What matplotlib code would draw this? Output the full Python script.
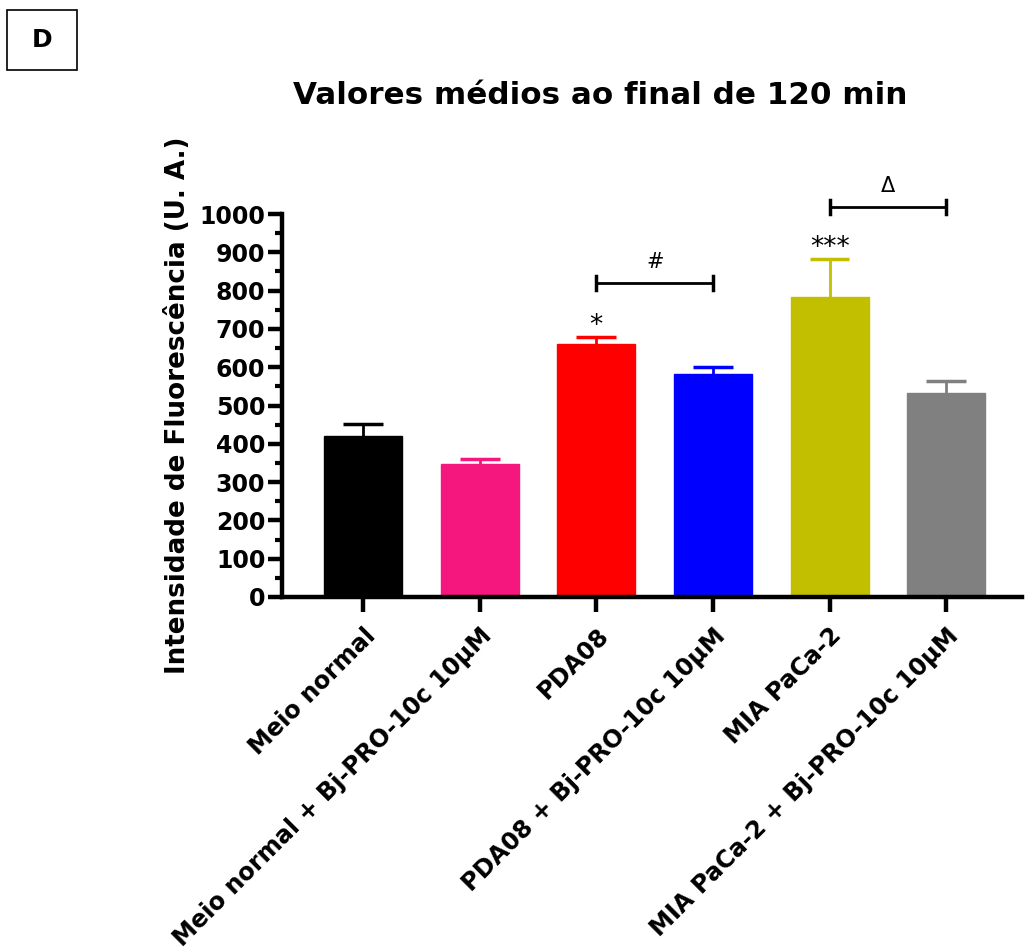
import matplotlib
matplotlib.use("Agg")
import matplotlib.pyplot as plt
from matplotlib.patches import Rectangle
from matplotlib.ticker import MultipleLocator

plt.rcParams["font.family"] = ["DejaVu Sans"]

# data
groups = [
    "Meio normal",
    "Meio normal + Bj-PRO-10c 10µM",
    "PDA08",
    "PDA08 + Bj-PRO-10c 10µM",
    "MIA PaCa-2",
    "MIA PaCa-2 + Bj-PRO-10c 10µM",
]
means = [421, 347, 660, 582, 783, 533]
sem = [31, 13, 19, 18, 99, 31]
colors = ["#000000", "#F5177E", "#FF0000", "#0000FF", "#C2BF00", "#808080"]

# significance marks: (bar index, symbol, y)
stars = [(2, "*", 708), (4, "***", 910)]
# brackets: (left bar, right bar, y, symbol)
brackets = [(2, 3, 820, "#"), (4, 5, 1018, "Δ")]

fig = plt.figure(figsize=(10.25, 9.52), dpi=100)
ax = fig.add_axes([0.2751, 0.3729, 0.722, 0.4023])

x = list(range(len(groups)))
ax.bar(x, means, width=0.67, color=colors, edgecolor=colors, linewidth=1, zorder=2)
cap = 0.17
for xi, m, e, c in zip(x, means, sem, colors):
    ax.vlines(xi, m, m + e, color=c, lw=2, zorder=1)
    ax.hlines(m + e, xi - cap, xi + cap, color=c, lw=2.5, zorder=1)

ax.set_xlim(-0.695, 5.65)
ax.set_ylim(0, 1000)
ax.yaxis.set_major_locator(MultipleLocator(100))
ax.yaxis.set_minor_locator(MultipleLocator(50))

for s in ["top", "right"]:
    ax.spines[s].set_visible(False)
for s in ["left", "bottom"]:
    ax.spines[s].set_linewidth(3.2)

ax.tick_params(axis="y", which="major", length=10, width=3.2, labelsize=17, pad=2)
ax.tick_params(axis="y", which="minor", length=5, width=3)
ax.tick_params(axis="x", which="major", length=11, width=3.2, labelsize=17.3, pad=8)
for lab in ax.get_yticklabels():
    lab.set_fontweight("bold")

ax.set_xticks(x)
ax.set_xticklabels(groups, rotation=45, ha="right", rotation_mode="anchor",
                   fontweight="bold")

ax.set_ylabel("Intensidade de Fluorescência (U. A.)", fontsize=18.8,
              fontweight="bold", labelpad=6)
fig.text(600 / 1025, 1 - 95 / 952, "Valores médios ao final de 120 min",
         ha="center", va="center", fontsize=22.3, fontweight="bold")

for i, sym, yv in stars:
    ax.text(i, yv, sym, ha="center", va="center", fontsize=19, clip_on=False)

for a, b, yv, sym in brackets:
    ax.plot([a, b], [yv, yv], color="black", lw=2, clip_on=False)
    ax.plot([a, a], [yv - 18, yv + 18], color="black", lw=2.5, clip_on=False)
    ax.plot([b, b], [yv - 18, yv + 18], color="black", lw=2.5, clip_on=False)
    ax.text((a + b) / 2, yv + 55, sym, ha="center", va="center",
            fontsize=15, clip_on=False)

# panel letter box
fig.patches.append(Rectangle((7 / 1025, 1 - 70 / 952), 70 / 1025, 60 / 952,
                             transform=fig.transFigure, fill=False,
                             edgecolor="black", lw=1.2))
fig.text(42 / 1025, 1 - 40 / 952, "D", ha="center", va="center",
         fontsize=18, fontweight="bold")

fig.savefig("out.png", dpi=100)
